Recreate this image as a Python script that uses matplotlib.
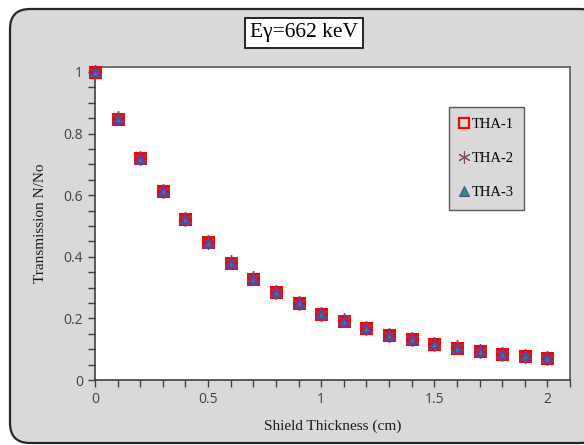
import matplotlib
matplotlib.use("Agg")
import matplotlib.pyplot as plt
from matplotlib.patches import FancyBboxPatch
from matplotlib.lines import Line2D
from matplotlib.ticker import MultipleLocator

espesor = [0.0, 0.1, 0.2, 0.3, 0.4, 0.5, 0.6, 0.7, 0.8, 0.9, 1.0,
           1.1, 1.2, 1.3, 1.4, 1.5, 1.6, 1.7, 1.8, 1.9, 2.0]
tha1 = [1.000, 0.848, 0.720, 0.615, 0.522, 0.447, 0.381, 0.329, 0.286, 0.250, 0.215,
        0.193, 0.168, 0.146, 0.132, 0.116, 0.105, 0.094, 0.083, 0.078, 0.072]
tha2 = [1.000, 0.849, 0.721, 0.614, 0.523, 0.448, 0.382, 0.330, 0.287, 0.250, 0.215,
        0.194, 0.169, 0.147, 0.133, 0.117, 0.106, 0.095, 0.084, 0.078, 0.073]
tha3 = [1.000, 0.848, 0.719, 0.613, 0.522, 0.446, 0.380, 0.329, 0.286, 0.249, 0.214,
        0.193, 0.168, 0.146, 0.132, 0.116, 0.104, 0.094, 0.083, 0.077, 0.072]
series = ["THA-1", "THA-2", "THA-3"]

fig = plt.figure(figsize=(5.84, 4.45), dpi=100)

# fondo gris redondeado
caja = FancyBboxPatch((0.10, 0.02), 5.9, 4.34,
                      boxstyle="round,pad=0,rounding_size=0.2",
                      transform=fig.dpi_scale_trans,
                      facecolor="#D9D9D9", edgecolor="#262626", linewidth=1.6,
                      zorder=-10)
fig.patches.append(caja)

ax = fig.add_axes([0.1627, 0.146, 0.8133, 0.7034])
ax.set_zorder(1)
ax.set_facecolor("white")

kw_sq = dict(marker="s", markersize=7, markerfacecolor="#FF0000",
             markeredgecolor="#FF0000", markeredgewidth=2.2, linestyle="none")
kw_ast = dict(marker=(6, 2, 0), markersize=10.5, color="#7F4A4A",
              markeredgewidth=1.0, linestyle="none")
kw_tri = dict(marker="^", markersize=6, markerfacecolor="#1A9E5C",
              markeredgecolor="#6A3AA8", markeredgewidth=1.8, linestyle="none")

ax.plot(espesor, tha1, **kw_sq, zorder=3, clip_on=False)
ax.plot(espesor, tha2, **kw_ast, zorder=4, clip_on=False)
ax.plot(espesor, tha3, **kw_tri, zorder=5, clip_on=False)

ax.set_xlim(0, 2.1)
ax.set_ylim(0, 1.016)
ax.xaxis.set_minor_locator(MultipleLocator(0.1))
ax.yaxis.set_minor_locator(MultipleLocator(0.05))
ax.set_xticks([0, 0.5, 1, 1.5, 2])
ax.set_xticklabels(["0", "0.5", "1", "1.5", "2"])
ax.set_yticks([0, 0.2, 0.4, 0.6, 0.8, 1.0])
ax.set_yticklabels(["0", "0.2", "0.4", "0.6", "0.8", "1"])
ax.tick_params(which="both", direction="out", length=5, width=1, color="#404040",
               labelsize=10, labelcolor="#404040")
for lab in ax.get_xticklabels() + ax.get_yticklabels():
    lab.set_family("Open Sans")
for s in ax.spines.values():
    s.set_color("#595959")
    s.set_linewidth(1.2)
ax.spines["left"].set_color("#404040")
ax.spines["bottom"].set_color("#404040")

ax.set_xlabel("Shield Thickness (cm)", family="Liberation Serif", fontsize=11,
              color="#1a1a1a", labelpad=9)
ax.set_ylabel("Transmission N/No", family="Liberation Serif", fontsize=11,
              color="#1a1a1a", labelpad=12)

fig.text(304 / 584, 1 - 33 / 445, "E\u03b3=662 keV", family="Liberation Serif",
         fontsize=15.5, ha="center", va="center", zorder=2,
         bbox=dict(boxstyle="square,pad=0.25", facecolor="white",
                   edgecolor="black", linewidth=1.2))

handles = [
    Line2D([], [], marker="s", markersize=6.5, markerfacecolor="none",
           markeredgecolor="#FF0000", markeredgewidth=1.6, linestyle="none"),
    Line2D([], [], marker=(6, 2, 0), markersize=9, color="#7F4A4A",
           markeredgewidth=0.8, linestyle="none"),
    Line2D([], [], marker="^", markersize=6.5, markerfacecolor="#1A9E5C",
           markeredgecolor="#6A3AA8", markeredgewidth=0.8, linestyle="none"),
]
leg = ax.legend(handles, series, loc="center",
                bbox_to_anchor=(486.5 / 584, 1 - 158.5 / 445),
                bbox_transform=fig.transFigure,
                prop={"family": "Liberation Serif", "size": 10.5},
                frameon=True, fancybox=False, labelspacing=1.45,
                handlelength=0.6, handletextpad=0.2, borderpad=0.75,
                borderaxespad=0)
leg.get_frame().set_facecolor("#D9D9D9")
leg.get_frame().set_edgecolor("#595959")
leg.get_frame().set_linewidth(1.0)
leg.get_frame().set_alpha(1)

fig.savefig("out.png", dpi=100, facecolor="white")
